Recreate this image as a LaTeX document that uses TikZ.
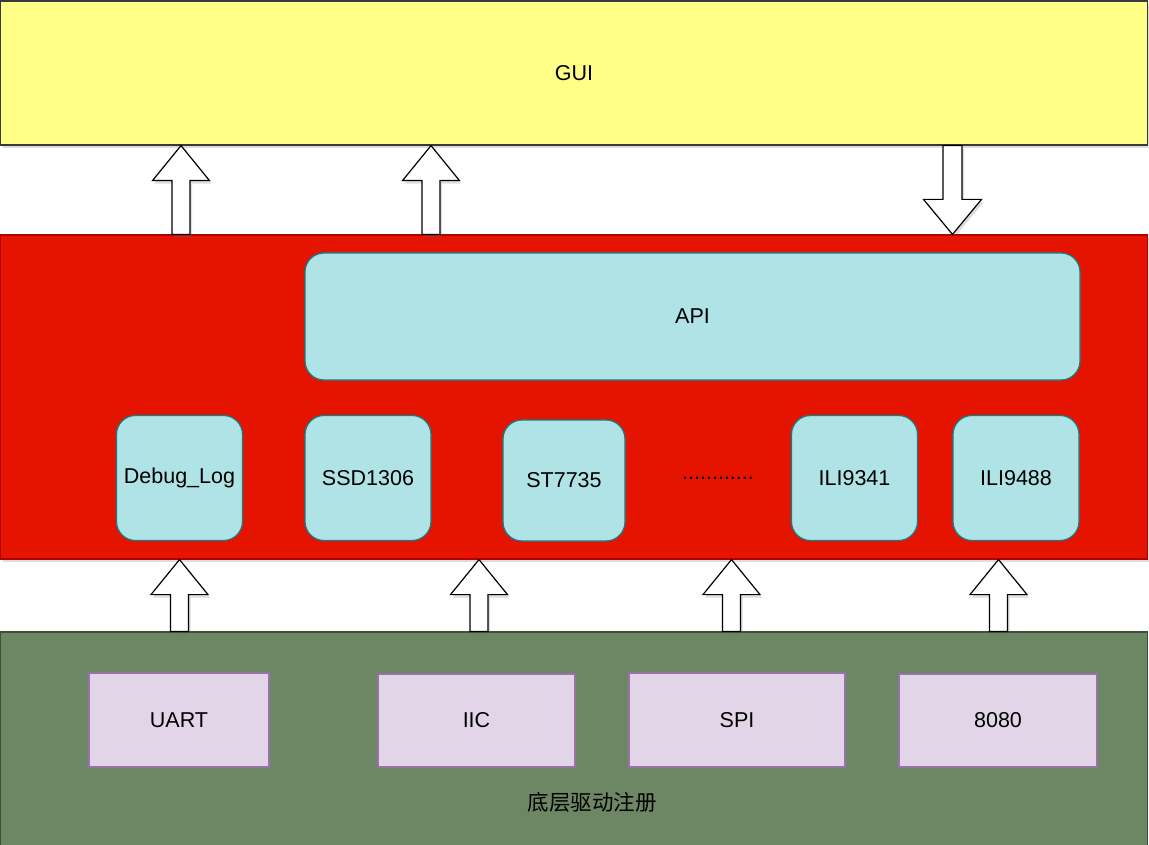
\documentclass[tikz,border=0pt]{standalone}
\usepackage{fontspec}
\setmainfont{Liberation Sans}
\newfontfamily\cjk{Noto Sans CJK SC}
\usetikzlibrary{calc,shadows}
\definecolor{guifill}{HTML}{FFFF88}
\definecolor{guidraw}{HTML}{36393D}
\definecolor{redfill}{HTML}{E51400}
\definecolor{reddraw}{HTML}{B20000}
\definecolor{grnfill}{HTML}{6D8764}
\definecolor{grndraw}{HTML}{3A5431}
\definecolor{cyfill}{HTML}{B0E3E6}
\definecolor{cydraw}{HTML}{0E8088}
\definecolor{pufill}{HTML}{E1D5E7}
\definecolor{pudraw}{HTML}{9673A6}
\tikzset{
  layer/.style={rectangle, inner sep=0pt, line width=1.2pt, text=black},
  softshadow/.style={drop shadow={shadow xshift=2pt, shadow yshift=-3pt, opacity=.22, fill=black!60}},
  chip/.style={layer, rounded corners=19pt, fill=cyfill, draw=cydraw, minimum width=126pt, minimum height=125pt},
  bus/.style={layer, fill=pufill, draw=pudraw, minimum height=94pt},
  barrow/.style={draw=black, fill=white, line width=1.2pt, line join=miter, softshadow}
}
\newcommand\UpArr[3]{%
  \draw[barrow] let \p1=(#2.north), \p2=(#3.south) in
  (#1-9pt,\y1) -- (#1-9pt,\y2-35pt) -- (#1-28.5pt,\y2-35pt) -- (#1pt,\y2)
  -- (#1+28.5pt,\y2-35pt) -- (#1+9pt,\y2-35pt) -- (#1+9pt,\y1) -- cycle;}
\newcommand\DownArr[3]{%
  \draw[barrow] let \p1=(#2.south), \p2=(#3.north) in
  (#1-9.5pt,\y1) -- (#1-9.5pt,\y2+35pt) -- (#1-29pt,\y2+35pt) -- (#1pt,\y2)
  -- (#1+29pt,\y2+35pt) -- (#1+9.5pt,\y2+35pt) -- (#1+9.5pt,\y1) -- cycle;}
\begin{document}
\begin{tikzpicture}[x=1pt,y=-1pt,font=\fontsize{21.5}{25}\selectfont]
\useasboundingbox (0,0) rectangle (1149,845);
% layers
\node[layer, fill=guifill, draw=guidraw, minimum width=1147pt, minimum height=144pt, softshadow] (gui) at (574,73) {GUI};
\node[layer, fill=redfill, draw=reddraw, minimum width=1147pt, minimum height=324pt, softshadow] (red) at (574,397) {};
\node[layer, fill=grnfill, draw=grndraw, minimum width=1147pt, minimum height=218pt] (grn) at (574,741) {};
% API and chips
\node[layer, rounded corners=19pt, fill=cyfill, draw=cydraw, minimum width=775pt, minimum height=127pt] (api) at (692.5,316.5) {API};
\node[chip] (dbg) at (179.5,478) {Debug\_Log};
\node[chip] (ssd) at (368,478) {SSD1306};
\node[chip, minimum width=122pt, minimum height=121pt] (st) at (564,480.5) {ST7735};
\node (dots) at (718,478) {............};
\node[chip] (ili1) at (854.5,478) {ILI9341};
\node[chip] (ili2) at (1016,478) {ILI9488};
% buses
\node[bus, minimum width=180pt] (uart) at (179,720) {UART};
\node[bus, minimum width=197pt, minimum height=93pt] (iic) at (476.5,720.5) {IIC};
\node[bus, minimum width=216pt] (spi) at (737,720) {SPI};
\node[bus, minimum width=198pt, minimum height=93pt] (i8080) at (998,720.5) {8080};
\node (reg) at (592,802) {\cjk 底层驱动注册};
% arrows
\UpArr{181}{red}{gui}
\UpArr{431}{red}{gui}
\DownArr{952.5}{gui}{red}
\UpArr{179.5}{grn}{red}
\UpArr{479}{grn}{red}
\UpArr{731.5}{grn}{red}
\UpArr{998.5}{grn}{red}
\end{tikzpicture}
\end{document}
